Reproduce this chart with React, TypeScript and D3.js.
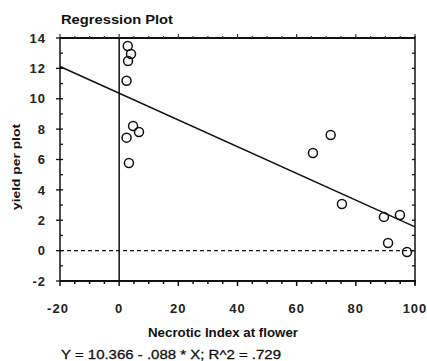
import React from "react";
import * as d3 from "d3";

const xValues = [2.9, 4.0, 3.0, 2.5, 4.7, 6.7, 2.5, 3.3, 71.5, 65.5, 75.3, 89.5, 94.9, 90.9, 97.3];
const yValues = [13.47, 12.95, 12.49, 11.19, 8.21, 7.81, 7.44, 5.77, 7.61, 6.43, 3.07, 2.22, 2.35, 0.5, -0.09];
const xTicks = [-20, 0, 20, 40, 60, 80, 100];
const yTicks = [-2, 0, 2, 4, 6, 8, 10, 12, 14];
const intercept = 10.366;
const slope = -0.088;
const titleText = "Regression Plot";
const xLabel = "Necrotic Index at flower";
const yLabel = "yield per plot";
const equation = "Y = 10.366 - .088 * X; R^2 = .729";

const W = 427, H = 361;
const L = 60, R = 415, T = 38, B = 281;

export default function App() {
  const x = d3.scaleLinear().domain([-20, 100]).range([L, R]);
  const y = d3.scaleLinear().domain([-2, 14]).range([B, T]);
  const font = "'Liberation Sans', Arial, sans-serif";
  const minorX = d3.range(-20, 100.1, 5);
  const minorY = d3.range(-2, 14.1, 1);
  const line = d3.line<number>().x((d) => x(d)).y((d) => y(intercept + slope * d));
  return (
    <svg width={W} height={H} style={{ position: "absolute", left: 0, top: 0, background: "#fff" }} fontFamily={font}>
      {/* title */}
      <text x={61} y={24} fontSize={13} fontWeight="bold" fill="#111" textLength={112} lengthAdjust="spacingAndGlyphs">{titleText}</text>
      {/* axes frame */}
      <line x1={L} x2={R} y1={T} y2={T} stroke="#111" strokeWidth={2} />
      <line x1={L} x2={R + 1} y1={B} y2={B} stroke="#111" strokeWidth={2} />
      <line x1={L} x2={L} y1={T} y2={B} stroke="#111" strokeWidth={1.5} />
      <line x1={R} x2={R} y1={T - 2} y2={B + 4} stroke="#111" strokeWidth={1.5} />
      {/* bottom ticks */}
      {minorX.map((v) => {
        const major = v % 20 === 0;
        return <line key={"bx" + v} x1={x(v)} x2={x(v)} y1={B} y2={B + (major ? 5 : 3)} stroke="#111" strokeWidth={1.5} />;
      })}
      {/* top ticks */}
      {minorX.map((v) => (
        <line key={"tx" + v} x1={x(v)} x2={x(v)} y1={T} y2={T - (v % 20 === 0 ? 4 : 2)} stroke="#333" strokeWidth={1.2} />
      ))}
      {/* left ticks */}
      {minorY.map((v) => {
        const major = v % 2 === 0;
        return <line key={"ly" + v} x1={major ? L - 4 : L} x2={L + 3} y1={y(v)} y2={y(v)} stroke="#111" strokeWidth={1.3} />;
      })}
      {/* right ticks */}
      {minorY.map((v) => (
        <line key={"ry" + v} x1={R - 3} x2={R} y1={y(v)} y2={y(v)} stroke="#111" strokeWidth={1.3} />
      ))}
      {/* tick labels */}
      {xTicks.map((v) => (
        <text key={"xl" + v} x={x(v) - (v < 0 ? 2 : 0)} y={313} fontSize={13} letterSpacing={1} fontWeight="bold" textAnchor="middle" fill="#222">{v}</text>
      ))}
      {yTicks.map((v) => (
        <text key={"yl" + v} x={46} y={y(v)} dy="0.36em" fontSize={13} letterSpacing={1} fontWeight="bold" textAnchor="end" fill="#222">{v}</text>
      ))}
      {/* reference lines */}
      <line x1={x(0)} x2={x(0)} y1={T} y2={B} stroke="#111" strokeWidth={1.5} />
      <line x1={L} x2={R} y1={y(0)} y2={y(0)} stroke="#111" strokeWidth={1.2} strokeDasharray="4,3" />
      {/* regression line */}
      <path d={line([-20, 100]) || ""} fill="none" stroke="#111" strokeWidth={1.5} />
      {/* points */}
      {xValues.map((v, i) => (
        <circle key={"p" + i} cx={x(v)} cy={y(yValues[i])} r={4.5} fill="none" stroke="#111" strokeWidth={1.5} />
      ))}
      {/* axis labels */}
      <text x={148} y={337} fontSize={12} fontWeight="bold" fill="#111" textLength={150} lengthAdjust="spacingAndGlyphs">{xLabel}</text>
      <text transform={`translate(20,210) rotate(-90)`} fontSize={11.5} fontWeight="bold" fill="#111" textLength={86} lengthAdjust="spacingAndGlyphs">{yLabel}</text>
      <text x={61} y={359} fontSize={13} fill="#111" stroke="#111" strokeWidth={0.3} textLength={220} lengthAdjust="spacingAndGlyphs">{equation}</text>
    </svg>
  );
}
